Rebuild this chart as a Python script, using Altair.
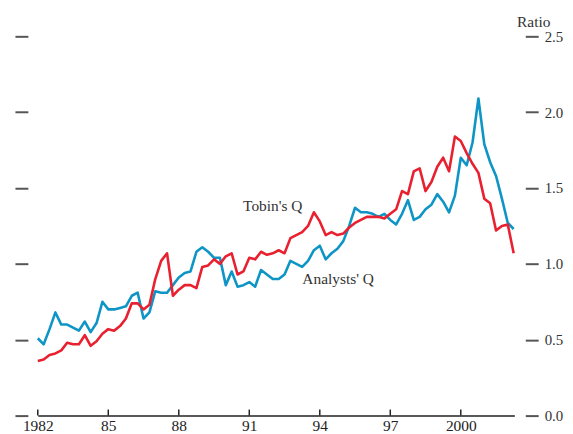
import altair as alt
import pandas as pd

# Quarterly observations starting 1982 Q1
start_year = 1982.0
analysts_q = [
    0.51, 0.47, 0.57, 0.68, 0.60, 0.60, 0.58, 0.56, 0.62, 0.55,
    0.61, 0.75, 0.70, 0.70, 0.71, 0.72, 0.79, 0.81, 0.64, 0.68,
    0.82, 0.81, 0.81, 0.86, 0.91, 0.94, 0.95, 1.08, 1.11, 1.08,
    1.04, 1.04, 0.86, 0.95, 0.85, 0.86, 0.88, 0.85, 0.96, 0.93,
    0.90, 0.90, 0.93, 1.02, 1.00, 0.98, 1.02, 1.09, 1.12, 1.03,
    1.07, 1.10, 1.15, 1.25, 1.37, 1.34, 1.34, 1.33, 1.31, 1.33,
    1.29, 1.26, 1.33, 1.42, 1.29, 1.31, 1.36, 1.39, 1.46, 1.41,
    1.34, 1.45, 1.70, 1.65, 1.80, 2.09, 1.79, 1.67, 1.58, 1.43,
    1.27, 1.23,
]
tobins_q = [
    0.36, 0.37, 0.40, 0.41, 0.43, 0.48, 0.47, 0.47, 0.53, 0.46,
    0.49, 0.54, 0.57, 0.56, 0.59, 0.64, 0.74, 0.74, 0.70, 0.73,
    0.90, 1.02, 1.07, 0.79, 0.83, 0.86, 0.86, 0.84, 0.98, 0.99,
    1.03, 1.00, 1.05, 1.07, 0.93, 0.95, 1.04, 1.03, 1.08, 1.06,
    1.07, 1.09, 1.07, 1.17, 1.19, 1.21, 1.25, 1.34, 1.28, 1.19,
    1.21, 1.19, 1.20, 1.24, 1.27, 1.29, 1.31, 1.31, 1.31, 1.30,
    1.33, 1.36, 1.48, 1.46, 1.61, 1.63, 1.48, 1.54, 1.64, 1.70,
    1.61, 1.84, 1.81, 1.73, 1.66, 1.60, 1.43, 1.40, 1.22, 1.25,
    1.26, 1.07,
]
tick_years = [1982, 1985, 1988, 1991, 1994, 1997, 2000]
tick_labels = ["1982", "85", "88", "91", "94", "97", "2000"]
y_ticks = [0.0, 0.5, 1.0, 1.5, 2.0, 2.5]

labels = ["Tobin's Q", "Analysts' Q"]
label_years = [1992.0, 1994.78]
label_values = [1.35, 0.865]

RED = "#E8202F"
BLUE = "#0E95C6"
FONT = "Liberation Serif"

quarters = [start_year + 0.25 * i for i in range(len(analysts_q))]
rows = []
for q, a, t in zip(quarters, analysts_q, tobins_q):
    rows.append({"year": q, "series": "Analysts' Q", "value": a})
    rows.append({"year": q, "series": "Tobin's Q", "value": t})
df = pd.DataFrame(rows)

xscale = alt.Scale(domain=[1982, 2002.28], nice=False, zero=False)
yscale = alt.Scale(domain=[0, 2.5], nice=False, zero=True)

label_map = "{" + ",".join(f"'{y}':'{l}'" for y, l in zip(tick_years, tick_labels)) + "}"

x_axis = alt.Axis(values=tick_years, title=None, grid=False, ticks=False,
                  domain=True, domainColor="#222", domainWidth=1.5,
                  labelFont=FONT, labelFontSize=15.5, labelColor="#222",
                  labelPadding=3, labelExpr=f"{label_map}[datum.value]",
                  labelFlush=False, labelOverlap=False)

lines = alt.Chart(df).mark_line(strokeWidth=2.6, strokeJoin="round").encode(
    x=alt.X("year:Q", scale=xscale, axis=x_axis),
    y=alt.Y("value:Q", scale=yscale,
            axis=alt.Axis(orient="right", values=y_ticks, format=".1f", grid=False,
                          domain=False, ticks=True, tickSize=13, tickWidth=2,
                          tickColor="#555", offset=11, labelPadding=6,
                          labelFont=FONT, labelFontSize=15, labelColor="#333",
                          title="Ratio", titleAngle=0, titleFont=FONT,
                          titleFontSize=15.5, titleFontWeight="normal", titleColor="#333",
                          titleAlign="center", titleBaseline="alphabetic",
                          titleX=8, titleY=-10)),
    color=alt.Color("series:N",
                    scale=alt.Scale(domain=["Tobin's Q", "Analysts' Q"], range=[RED, BLUE]),
                    legend=None),
    detail="series:N",
)

tick_df = pd.DataFrame({"year": tick_years, "y0": [0.0] * len(tick_years),
                        "y1": [0.04] * len(tick_years)})
xticks = alt.Chart(tick_df).mark_rule(color="#222", strokeWidth=1.5).encode(
    x=alt.X("year:Q", scale=xscale, axis=x_axis),
    y=alt.Y("y0:Q", scale=yscale,
            axis=alt.Axis(orient="left", values=y_ticks, grid=False, domain=False,
                          labels=False, ticks=True, tickSize=13, tickWidth=2,
                          tickColor="#555", offset=10, title=None)),
    y2="y1:Q",
)

text_df = pd.DataFrame({"year": label_years, "value": label_values, "label": labels})
texts = alt.Chart(text_df).mark_text(font=FONT, fontSize=15.5, color="#333",
                                     align="center", baseline="alphabetic").encode(
    x=alt.X("year:Q", scale=xscale, axis=x_axis),
    y=alt.Y("value:Q", scale=yscale, axis=None),
    text="label:N",
)

chart = alt.layer(lines, xticks, texts).resolve_axis(y="independent").properties(
    width=480, height=382,
    background="white",
    autosize=alt.AutoSizeParams(type="none"),
    padding={"left": 30, "top": 27, "right": 51, "bottom": 17},
).configure_view(stroke=None, strokeWidth=0)

chart.save("out.html", embed_options={"renderer": "svg", "actions": False})
